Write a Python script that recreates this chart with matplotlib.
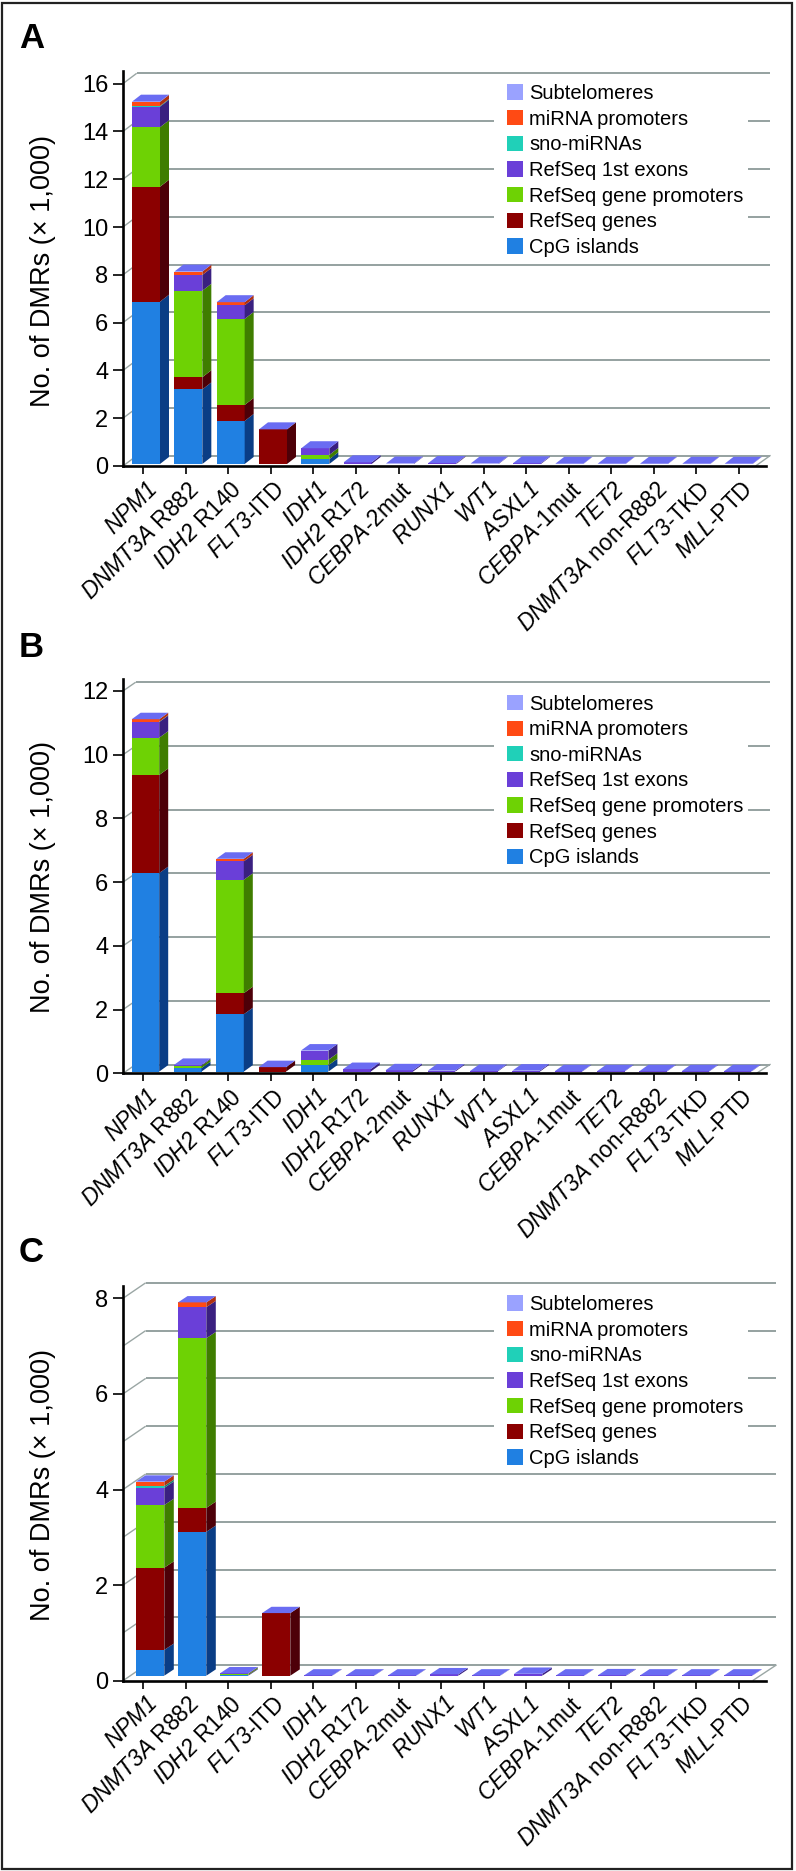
import matplotlib
matplotlib.use('Agg')
import matplotlib.pyplot as plt
from matplotlib.patches import Patch, Rectangle
from matplotlib.transforms import ScaledTranslation

plt.rcParams['font.family'] = ['Liberation Sans', 'DejaVu Sans']
plt.rcParams['mathtext.fontset'] = 'custom'
plt.rcParams['mathtext.rm'] = 'Liberation Sans'
plt.rcParams['mathtext.it'] = 'Liberation Sans:italic'
# \mathit turns digits upright, so cal is used for the italic gene names
plt.rcParams['mathtext.cal'] = 'Liberation Sans:italic'

W, H = 796, 1871

categories = ['$\\mathcal{NPM1}$', '$\\mathcal{DNMT3A}$ R882', '$\\mathcal{IDH2}$ R140', '$\\mathcal{FLT3}$-ITD',
              '$\\mathcal{IDH1}$', '$\\mathcal{IDH2}$ R172', '$\\mathcal{CEBPA}$-2mut', '$\\mathcal{RUNX1}$',
              '$\\mathcal{WT1}$', '$\\mathcal{ASXL1}$', '$\\mathcal{CEBPA}$-1mut', '$\\mathcal{TET2}$',
              '$\\mathcal{DNMT3A}$ non-R882', '$\\mathcal{FLT3}$-TKD', '$\\mathcal{MLL}$-PTD']

series_names = ['CpG islands', 'RefSeq genes', 'RefSeq gene promoters', 'RefSeq 1st exons',
                'sno-miRNAs', 'miRNA promoters', 'Subtelomeres']
front_colors = ['#2080e2', '#8b0000', '#6ed204', '#6a3fd8', '#20d0b8', '#ff4a14', '#9aa2ff']
side_colors = ['#0a3d85', '#4d0008', '#3f7d00', '#3a2080', '#128070', '#b03010', '#5a60b0']
top_color = '#6a6cf2'

# panel A
a_cpg = [6.79, 3.12, 1.80, 0, 0.20, 0, 0, 0, 0, 0, 0, 0, 0, 0, 0]
a_genes = [4.81, 0.51, 0.67, 1.45, 0, 0, 0, 0.01, 0, 0, 0, 0, 0, 0, 0]
a_promoters = [2.49, 3.62, 3.60, 0, 0.18, 0, 0, 0, 0, 0, 0, 0, 0, 0, 0]
a_exons = [0.86, 0.66, 0.57, 0, 0.28, 0.07, 0.02, 0.03, 0.02, 0.03, 0.01, 0.01, 0.01, 0.01, 0.01]
a_sno = [0.03, 0, 0, 0, 0, 0, 0, 0, 0, 0, 0, 0, 0, 0, 0]
a_mirna = [0.17, 0.14, 0.13, 0, 0, 0, 0, 0, 0, 0, 0, 0, 0, 0, 0]
a_subtel = [0.01, 0, 0, 0, 0, 0, 0, 0, 0, 0, 0, 0, 0, 0, 0]

# panel B
b_cpg = [6.23, 0.11, 1.80, 0, 0.20, 0, 0, 0, 0, 0, 0, 0, 0, 0, 0]
b_genes = [3.08, 0, 0.66, 0.14, 0, 0, 0, 0, 0, 0, 0, 0, 0, 0, 0]
b_promoters = [1.17, 0.07, 3.56, 0, 0.17, 0, 0, 0, 0, 0, 0, 0, 0, 0, 0]
b_exons = [0.49, 0.03, 0.58, 0, 0.29, 0.08, 0.04, 0.03, 0.02, 0.03, 0.01, 0.01, 0.01, 0.01, 0.01]
b_sno = [0.01, 0, 0, 0, 0, 0, 0, 0, 0, 0, 0, 0, 0, 0, 0]
b_mirna = [0.08, 0, 0.08, 0, 0, 0, 0, 0, 0, 0, 0, 0, 0, 0, 0]
b_subtel = [0, 0, 0, 0, 0, 0, 0, 0, 0, 0, 0, 0, 0, 0, 0]

# panel C
c_cpg = [0.54, 3.01, 0.01, 0, 0, 0, 0, 0, 0, 0, 0, 0, 0, 0, 0]
c_genes = [1.72, 0.50, 0.01, 1.31, 0, 0, 0, 0, 0, 0, 0, 0, 0, 0, 0]
c_promoters = [1.31, 3.55, 0.02, 0, 0, 0, 0, 0, 0, 0, 0, 0, 0, 0, 0]
c_exons = [0.36, 0.65, 0.01, 0, 0.005, 0.005, 0.005, 0.03, 0.005, 0.04, 0.005, 0.01, 0.005, 0.005, 0.005]
c_sno = [0.04, 0, 0, 0, 0, 0, 0, 0, 0, 0, 0, 0, 0, 0, 0]
c_mirna = [0.09, 0.10, 0, 0, 0, 0, 0, 0, 0, 0, 0, 0, 0, 0, 0]
c_subtel = [0, 0, 0, 0, 0, 0, 0, 0, 0, 0, 0, 0, 0, 0, 0]

a_ticks = [0, 2, 4, 6, 8, 10, 12, 14, 16]
b_ticks = [0, 2, 4, 6, 8, 10, 12]
c_ticks = [0, 2, 4, 6, 8]
a_grid = [0, 2, 4, 6, 8, 10, 12, 14, 16]
b_grid = [0, 2, 4, 6, 8, 10, 12]
c_grid = [0, 1, 2, 3, 4, 5, 6, 7, 8]

GRID = '#8c9a98'
TICK0 = 143.2
PITCH = 42.55


def panel(letter, letter_y, y0, ppu, ytop, ticks, grid, series, wall_dx, wall_dy, grid_end, bar_x0,
          bar_pitch, bar_w, lift, depth_dx, depth_dy, legend_top, label_y):
    # y0, ytop etc are pixel rows of the original picture, from the top
    ax = fig.add_axes([123 / W, 1 - y0 / H, (766 - 123) / W, (y0 - ytop) / H])
    px = lambda p: (p - TICK0) / PITCH
    dxu = 1 / PITCH
    dyu = 1 / ppu
    ax.set_xlim(px(123), px(766))
    ax.set_ylim(0, (y0 - ytop) / ppu)
    ax.patch.set_alpha(0)
    for s in ['top', 'right']:
        ax.spines[s].set_visible(False)
    for s in ['left', 'bottom']:
        ax.spines[s].set_linewidth(1.9)
        ax.spines[s].set_zorder(6)

    # back wall lines and the slanted bits down to the y axis
    for g in grid:
        ax.plot([px(123), px(123 + wall_dx)], [g, g + wall_dy * dyu], color='#9aa6a4', lw=1.0, clip_on=False,
                zorder=1, solid_capstyle='butt')
        ax.plot([px(123 + wall_dx), px(grid_end)], [g + wall_dy * dyu] * 2, color=GRID, lw=1.3, clip_on=False,
                zorder=1, solid_capstyle='butt')
    ax.plot([px(grid_end - wall_dx), px(grid_end)], [0.5 * dyu, wall_dy * dyu], color='#9aa6a4', lw=1.0,
            clip_on=False, zorder=1)

    # white area behind the legend breaks the grid lines
    ax.add_patch(Rectangle((px(494), (y0 - legend_top - 176) * dyu), 254 * dxu, 182 * dyu, fc='white', ec='none',
                           zorder=2, clip_on=False))

    for i in range(len(categories)):
        left = px(bar_x0 + i * bar_pitch)
        right = left + bar_w * dxu
        bottom = lift * dyu
        for k, vals in enumerate(series):
            v = vals[i]
            if v == 0:
                continue
            ax.bar(left, v, width=bar_w * dxu, bottom=bottom, align='edge', color=front_colors[k], lw=0, zorder=3,
                   clip_on=False)
            ax.fill([right, right + depth_dx * dxu, right + depth_dx * dxu, right],
                    [bottom, bottom + depth_dy * dyu, bottom + v + depth_dy * dyu, bottom + v],
                    color=side_colors[k], lw=0, zorder=3, clip_on=False)
            bottom += v
        ax.fill([left, right, right + depth_dx * dxu, left + depth_dx * dxu],
                [bottom, bottom, bottom + depth_dy * dyu, bottom + depth_dy * dyu],
                color=top_color, lw=0, zorder=3, clip_on=False)

    ax.set_yticks(ticks)
    ax.set_yticklabels([str(t) for t in ticks], fontsize=17)
    ax.tick_params(axis='y', length=7.5, width=1.2, pad=3)
    ax.set_xticks(range(len(categories)))
    ax.set_xticklabels(categories, fontsize=16.4, rotation=45, ha='right', va='top', rotation_mode='anchor')
    ax.tick_params(axis='x', length=5.5, width=1.2, pad=3)
    shift = ScaledTranslation(2 / 100, 0, fig.dpi_scale_trans)
    for t in ax.get_xticklabels():
        t.set_transform(t.get_transform() + shift)

    handles = [Patch(fc=front_colors[k], ec='none', label=series_names[k]) for k in range(6, -1, -1)]
    ax.legend(handles=handles, loc='upper left', bbox_to_anchor=(px(507), (y0 - legend_top) * dyu),
              bbox_transform=ax.transData, frameon=False, fontsize=14.5, borderpad=0, borderaxespad=0,
              handlelength=0.79, handleheight=0.79, handletextpad=0.3, labelspacing=0.33).set_zorder(4)

    fig.text(43 / W, 1 - label_y / H, 'No. of DMRs (× 1,000)', rotation=90, ha='center', va='center', fontsize=19.5)
    fig.text(19 / W, 1 - letter_y / H, letter, fontsize=25, fontweight='bold', ha='left', va='baseline')


fig = plt.figure(figsize=(W / 100, H / 100), dpi=100)
fig.add_artist(Rectangle((1.5 / W, 1 - 1868.5 / H), 790 / W, 1866 / H, transform=fig.transFigure, fc='none',
                         ec='#222222', lw=1.6))

panel('A', 48, 466, 23.9, 71, a_ticks, a_grid, [a_cpg, a_genes, a_promoters, a_exons, a_sno, a_mirna, a_subtel],
      13.7, 10.3, 770, 132, 42.33, 28, 2, 9, 7, 84, 271)
panel('B', 657, 1073.3, 31.86, 679, b_ticks, b_grid,
      [b_cpg, b_genes, b_promoters, b_exons, b_sno, b_mirna, b_subtel],
      12.7, 8.8, 770, 131.7, 42.3, 27.5, 1.7, 9, 6.5, 694.5, 877)
panel('C', 1262, 1680.7, 47.8, 1286, c_ticks, c_grid,
      [c_cpg, c_genes, c_promoters, c_exons, c_sno, c_mirna, c_subtel],
      22.7, 15.5, 776, 136, 42, 28.3, 5, 9.5, 6.3, 1295, 1485)

fig.savefig('out.png', dpi=100)
